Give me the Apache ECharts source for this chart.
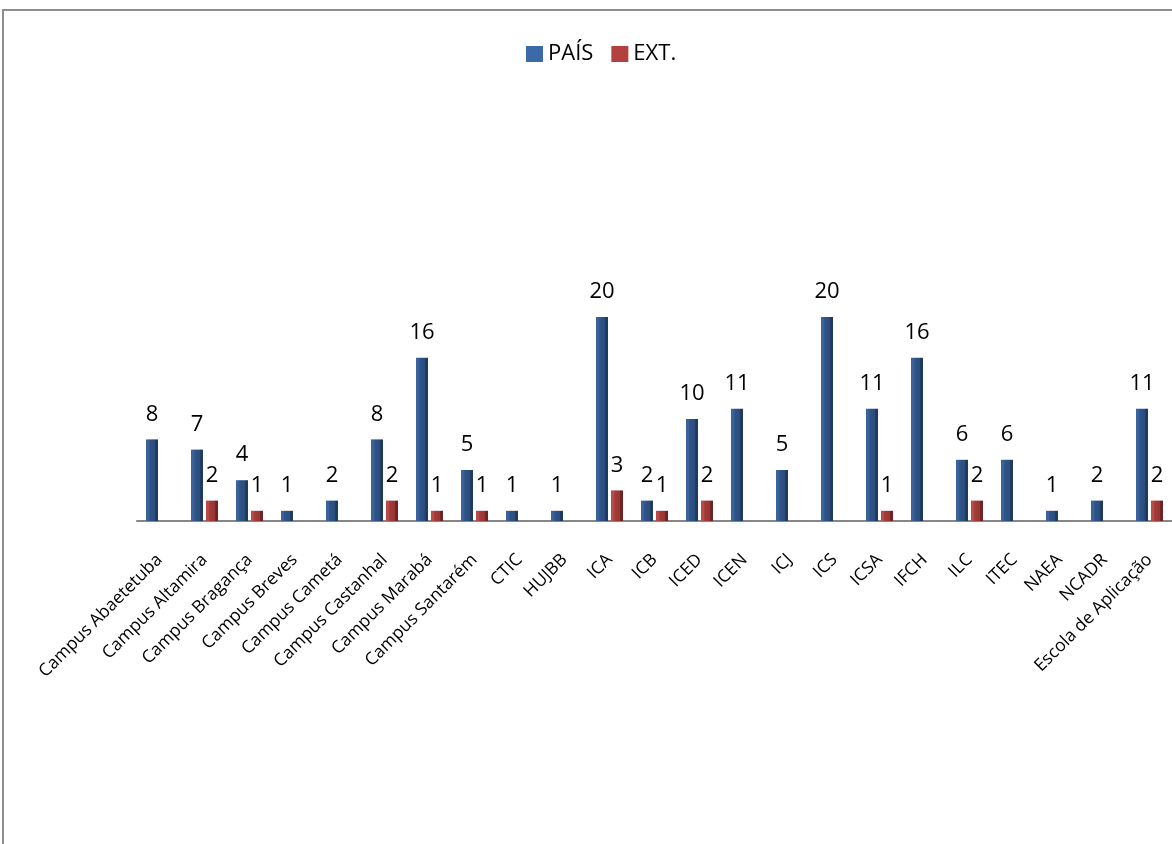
<!DOCTYPE html>
<html>
<head>
<meta charset="utf-8">
<script src="https://cdn.jsdelivr.net/npm/echarts@6/dist/echarts.min.js"></script>
<style>
html,body{margin:0;padding:0;background:#fff;}
#frame{position:absolute;left:2px;top:9px;width:1170px;height:835px;border-left:2px solid #8e8e8e;border-top:2px solid #8e8e8e;box-sizing:border-box;}
#chart{position:absolute;left:0;top:0;width:1172px;height:844px;}
</style>
</head>
<body>
<div id="frame"></div>
<div id="chart"></div>
<script>
const categories = ["Campus Abaetetuba","Campus Altamira","Campus Bragança","Campus Breves","Campus Cametá","Campus Castanhal","Campus Marabá","Campus Santarém","CTIC","HUJBB","ICA","ICB","ICED","ICEN","ICJ","ICS","ICSA","IFCH","ILC","ITEC","NAEA","NCADR","Escola de Aplicação"];
const pais = [8,7,4,1,2,8,16,5,1,1,20,2,10,11,5,20,11,16,6,6,1,2,11];
const ext  = [0,2,1,0,0,2,1,1,0,0,3,1,2,0,0,0,1,0,2,0,0,0,2];
const seriesNames = ["PAÍS","EXT."];

const chart = echarts.init(document.getElementById('chart'), null, {renderer:'canvas'});
const blueGrad = new echarts.graphic.LinearGradient(0,0,1,0,[
  {offset:0,color:'#3a639c'},{offset:0.25,color:'#3a639c'},{offset:0.3,color:'#2f5488'},{offset:0.75,color:'#2b4d7c'},{offset:0.8,color:'#1f3a5f'},{offset:1,color:'#1f3a5f'}]);
const redGrad = new echarts.graphic.LinearGradient(0,0,1,0,[
  {offset:0,color:'#b94a48'},{offset:0.25,color:'#b94a48'},{offset:0.3,color:'#a03c3a'},{offset:0.75,color:'#963634'},{offset:0.8,color:'#6e2221'},{offset:1,color:'#6e2221'}]);
const labelFmt = p => (p.value ? String(p.value) : '');
const font = '"Open Sans", "Noto Sans", sans-serif';
chart.setOption({
  animation:false,
  textStyle:{fontFamily:font},
  legend:{
    top:38, left:521, itemWidth:17, itemHeight:16, itemGap:18,
    icon:'rect',
    textStyle:{fontSize:22,color:'#000',fontFamily:font},
    data:[{name:seriesNames[0],itemStyle:{color:'#3c6aa8'}},{name:seriesNames[1],itemStyle:{color:'#b24140'}}]
  },
  grid:{left:137,right:0,top:113,bottom:323,containLabel:false},
  xAxis:{
    type:'category', data:categories,
    axisLine:{lineStyle:{color:'#868686',width:2}},
    axisTick:{show:false},
    axisLabel:{rotate:45,interval:0,margin:36,fontSize:17.5,color:'#000',fontFamily:font}
  },
  yAxis:{type:'value',min:0,max:40,interval:10,show:false,splitLine:{show:false}},
  series:[
    {name:seriesNames[0],type:'bar',data:pais,barWidth:12,barGap:'25%',
     itemStyle:{color:blueGrad},
     label:{show:true,position:'top',distance:14,fontSize:22,color:'#000',formatter:labelFmt,fontFamily:font}},
    {name:seriesNames[1],type:'bar',data:ext,barWidth:12,
     itemStyle:{color:redGrad},
     label:{show:true,position:'top',distance:14,fontSize:22,color:'#000',formatter:labelFmt,fontFamily:font}}
  ]
});
</script>
</body>
</html>
